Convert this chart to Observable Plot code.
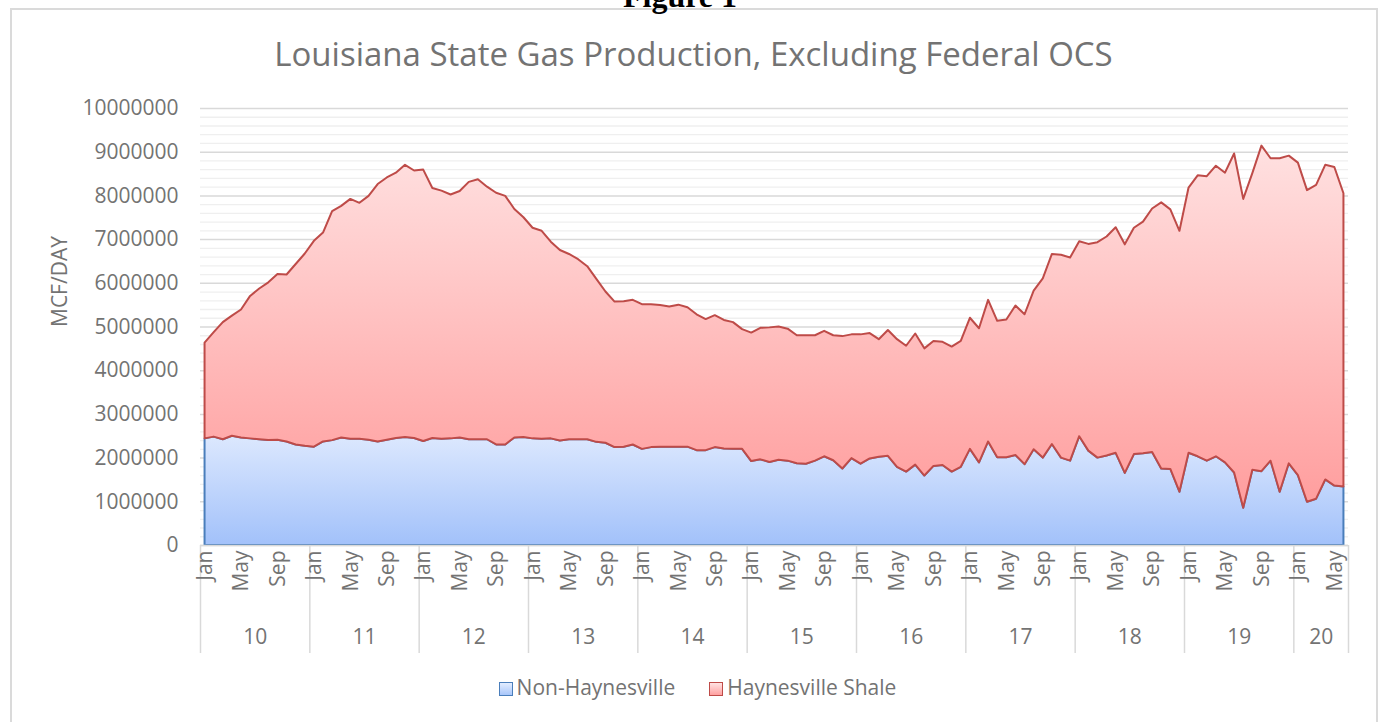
<!DOCTYPE html>
<html><head><meta charset="utf-8">
<script src="https://cdn.jsdelivr.net/npm/d3@7"></script>
<script src="https://cdn.jsdelivr.net/npm/@observablehq/plot@0.6"></script>
<style>
html,body{margin:0;padding:0;background:#fff;}
#fig{position:relative;width:1382px;height:722px;overflow:hidden;font-family:"Open Sans",sans-serif;}
#frame{position:absolute;left:10px;top:8px;width:1368px;height:760px;border:2px solid #dadada;box-sizing:border-box;}
#figlabel{position:absolute;left:623px;top:-20px;font:bold 32px "Liberation Serif",serif;line-height:1;color:#000;}
#title{position:absolute;left:10px;width:1367px;top:34px;text-align:center;font-size:33px;line-height:1.2;color:#737373;}
#chart{position:absolute;left:0;top:0;}
#legend{position:absolute;left:14px;width:1367px;top:675px;text-align:center;font-size:21px;line-height:1.2;color:#737373;}
.item{display:inline-block;margin:0 17px;}
.sw{display:inline-block;width:14px;height:14px;vertical-align:-1px;margin-right:4px;box-sizing:border-box;}
</style>
</head><body>
<div id="fig">
  <div id="frame"></div>
  <div id="figlabel">Figure 1</div>
  <div id="title">Louisiana State Gas Production, Excluding Federal OCS</div>
  <div id="chart"></div>
  <div id="legend"></div>
</div>
<script>
// ---- data (million MCF/DAY), monthly Jan 2010 – Jun 2020 ----
const seriesNames = ["Non-Haynesville", "Haynesville Shale"];
const monthNames = ["Jan","Feb","Mar","Apr","May","Jun","Jul","Aug","Sep","Oct","Nov","Dec"];
const yearLabels = ["10","11","12","13","14","15","16","17","18","19","20"];
const yTicks = [0,1000000,2000000,3000000,4000000,5000000,6000000,7000000,8000000,9000000,10000000];
const yTitle = "MCF/DAY";

const nonHaynesville = [
 2.44,2.48,2.42,2.50,2.46,2.44,2.42,2.40,2.41,2.37,2.30,2.27,
 2.25,2.37,2.40,2.46,2.43,2.43,2.41,2.37,2.41,2.45,2.47,2.45,
 2.38,2.45,2.43,2.44,2.46,2.42,2.42,2.42,2.30,2.30,2.46,2.47,
 2.44,2.43,2.44,2.39,2.42,2.42,2.42,2.36,2.34,2.24,2.25,2.30,
 2.20,2.24,2.25,2.25,2.25,2.25,2.17,2.17,2.24,2.21,2.20,2.20,
 1.92,1.96,1.90,1.95,1.93,1.87,1.86,1.93,2.03,1.94,1.75,1.99,
 1.86,1.98,2.02,2.04,1.79,1.68,1.84,1.59,1.81,1.83,1.68,1.79,
 2.20,1.89,2.37,2.01,2.01,2.06,1.85,2.19,2.00,2.31,2.00,1.93,
 2.49,2.16,2.00,2.05,2.11,1.65,2.08,2.10,2.13,1.75,1.74,1.22,
 2.11,2.03,1.93,2.03,1.89,1.66,0.85,1.72,1.69,1.93,1.22,1.87,
 1.60,0.99,1.06,1.50,1.36,1.34];

const haynesville = [
 2.19,2.39,2.68,2.75,2.93,3.26,3.45,3.61,3.79,3.82,4.13,4.40,
 4.71,4.78,5.24,5.30,5.49,5.40,5.58,5.89,6.00,6.07,6.23,6.12,
 6.21,5.72,5.68,5.58,5.64,5.89,5.95,5.78,5.76,5.69,5.23,5.03,
 4.82,4.76,4.50,4.36,4.24,4.12,3.96,3.73,3.46,3.33,3.33,3.31,
 3.31,3.27,3.24,3.21,3.25,3.19,3.11,3.00,3.02,2.94,2.90,2.74,
 2.94,3.01,3.08,3.05,3.02,2.93,2.94,2.87,2.87,2.86,3.03,2.83,
 2.96,2.87,2.69,2.88,2.92,2.88,3.00,2.91,2.86,2.82,2.86,2.88,
 3.00,3.07,3.24,3.12,3.15,3.42,3.43,3.63,4.10,4.35,4.64,4.65,
 4.46,4.73,4.93,5.01,5.16,5.23,5.18,5.30,5.57,6.09,5.94,5.97,
 6.07,6.43,6.51,6.65,6.63,7.30,7.07,6.79,7.45,6.92,7.63,7.04,
 7.15,7.13,7.18,7.20,7.29,6.71];

// ---- derived tables ----
const n = nonHaynesville.length;
const rows = nonHaynesville.map((v, i) => ({i, non: v * 1e6, top: (v + haynesville[i]) * 1e6}));
const monthTicks = d3.range(n).filter(i => i % 4 === 0);
const years = yearLabels.map((label, k) => {
  const s = k * 12, e = Math.min(s + 11, n - 1);
  return {label, mid: (s + e) / 2};
});
const yearBounds = yearLabels.map((_, k) => k * 12 - 0.5).concat([n - 0.5]);
const minorTicks = d3.range(0, 10000001, 200000).filter(v => v % 1000000 !== 0);

const textColor = "#737373";
const fs = 21;
const chart = Plot.plot({
  width: 1382,
  height: 670,
  marginLeft: 200,
  marginRight: 34,
  marginTop: 108,
  marginBottom: 125,
  style: {fontFamily: "'Open Sans', sans-serif", fontSize: fs + "px", color: textColor, background: "transparent"},
  x: {type: "linear", domain: [-0.5, n - 0.5], label: null},
  y: {domain: [0, 10000000], label: null},
  marks: [
    Plot.ruleY(minorTicks, {stroke: "#efefef", strokeWidth: 1.3}),
    Plot.ruleY(yTicks, {stroke: "#d9d9d9", strokeWidth: 1.5}),
    Plot.areaY(rows, {x: "i", y: "non", fill: "url(#gBlue)", stroke: "#4a7ebb", strokeWidth: 2}),
    Plot.areaY(rows, {x: "i", y1: "non", y2: "top", fill: "url(#gRed)", stroke: "#be4b48", strokeWidth: 2, strokeLinejoin: "round"}),
    Plot.ruleY([0], {stroke: "#d9d9d9", strokeWidth: 1.5}),
    Plot.ruleX(yearBounds, {x: d => d, y1: 0, y2: 0, insetBottom: -108, stroke: "#d9d9d9", strokeWidth: 1.5}),
    Plot.axisX({ticks: monthTicks, tickFormat: i => monthNames[i % 12], tickRotate: -90, tickSize: 0, tickPadding: 5, fontSize: fs, fill: textColor, label: null}),
    Plot.axisY({ticks: yTicks, tickFormat: d3.format("d"), tickSize: 0, tickPadding: 22, fontSize: fs, fill: textColor, label: null}),
    Plot.text(years, {x: "mid", text: "label", frameAnchor: "bottom", dy: 98, fontSize: fs, fill: textColor}),
    Plot.text([yTitle], {text: d => d, frameAnchor: "left", dx: -140, rotate: -90, fontSize: fs, fill: textColor})
  ]
});

const defs = d3.select(chart).insert("defs", ":first-child");
const gr = defs.append("linearGradient").attr("id", "gRed").attr("x1", 0).attr("y1", 0).attr("x2", 0).attr("y2", 1);
gr.append("stop").attr("offset", 0).attr("stop-color", "#ffe1e1");
gr.append("stop").attr("offset", 1).attr("stop-color", "#ff9d9d");
const gb = defs.append("linearGradient").attr("id", "gBlue").attr("x1", 0).attr("y1", 0).attr("x2", 0).attr("y2", 1);
gb.append("stop").attr("offset", 0).attr("stop-color", "#dce8fe");
gb.append("stop").attr("offset", 1).attr("stop-color", "#a2c1fa");
document.getElementById("chart").appendChild(chart);

// legend
const legendColors = [
  {bg: "linear-gradient(#e3edff,#a8c6fa)", border: "#4a7ebb"},
  {bg: "linear-gradient(#ffe3e3,#ffa0a0)", border: "#be4b48"}
];
const legend = document.getElementById("legend");
seriesNames.forEach((name, k) => {
  const item = document.createElement("span");
  item.className = "item";
  const sw = document.createElement("span");
  sw.className = "sw";
  sw.style.background = legendColors[k].bg;
  sw.style.border = "1.5px solid " + legendColors[k].border;
  item.appendChild(sw);
  item.appendChild(document.createTextNode(name));
  legend.appendChild(item);
});
</script>
</body></html>
